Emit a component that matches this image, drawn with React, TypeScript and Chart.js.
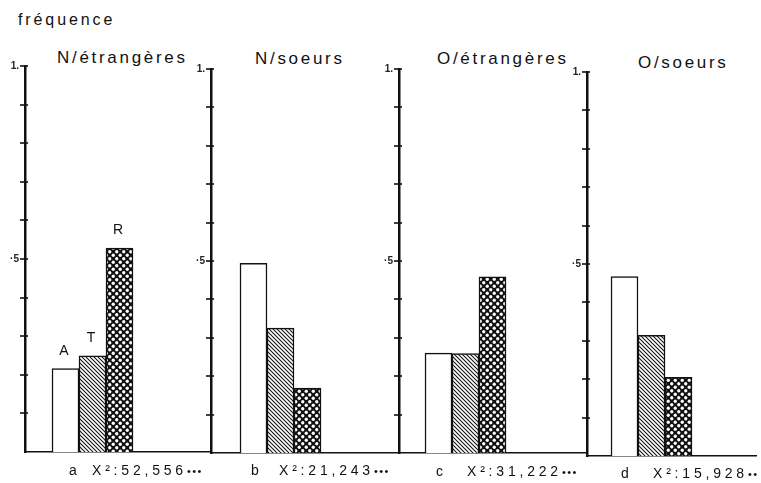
import React, { useEffect, useRef } from 'react';
import { Chart, registerables } from 'chart.js';

Chart.register(...registerables);

// ---- data ----
const categories = ['A', 'T', 'R'];
const panelTitles = ['N/étrangères', 'N/soeurs', 'O/étrangères', 'O/soeurs'];
const panelLetters = ['a', 'b', 'c', 'd'];
const chiSquare = ['52,556', '21,243', '31,222', '15,928'];
const significance = ['•••', '•••', '•••', '••'];
const freqA = [0.216, 0.494, 0.26, 0.467];
const freqT = [0.249, 0.325, 0.259, 0.314];
const freqR = [0.528, 0.169, 0.459, 0.205];
const yLabelValues = [1, 0.5];
const yLabelTexts = ['1.', '·5'];
const yAxisTitle = 'fréquence';

// ---- layout ----
const axisX = [25, 211, 399, 587];
const RIGHT_END = 757;
const topPx = [64, 67, 67, 70];
const basePx = [461, 462, 462, 465];
const barOffset = [27, 29, 26, 24];
const BAR = 27;
const LABEL_W = 22;
const PAD_TOP = 10;
const PAD_BOTTOM = 3;
const FONT = '"Liberation Sans", Arial, sans-serif';

const titleLeft = [57, 255, 437, 638];
const titleBase = [63, 64, 64, 68];
const letterLeft = [69, 251, 436, 621];
const chiLeft = [92, 279, 467, 653];
const bottomBase = [475, 475, 476, 478];

function makeHatch(): CanvasPattern | string {
  const c = document.createElement('canvas');
  c.width = 4;
  c.height = 4;
  const g = c.getContext('2d');
  if (!g) return '#888';
  g.fillStyle = '#fff';
  g.fillRect(0, 0, 4, 4);
  g.strokeStyle = '#151515';
  g.lineWidth = 1.1;
  g.beginPath();
  g.moveTo(-1, -1);
  g.lineTo(5, 5);
  g.moveTo(-1, 3);
  g.lineTo(1, 5);
  g.moveTo(3, -1);
  g.lineTo(5, 1);
  g.stroke();
  return g.createPattern(c, 'repeat') || '#888';
}

function makeDots(): CanvasPattern | string {
  const s = 7;
  const c = document.createElement('canvas');
  c.width = s;
  c.height = s;
  const g = c.getContext('2d');
  if (!g) return '#333';
  g.fillStyle = '#111';
  g.fillRect(0, 0, s, s);
  g.fillStyle = '#fff';
  g.beginPath();
  g.arc(1.75, 1.75, 1.65, 0, Math.PI * 2);
  g.fill();
  g.beginPath();
  g.arc(5.25, 5.25, 1.65, 0, Math.PI * 2);
  g.fill();
  return g.createPattern(c, 'repeat') || '#333';
}

const crossTicks = {
  id: 'crossTicks',
  afterDraw(chart: any) {
    const ys = chart.scales.y;
    const ctx = chart.ctx;
    const x0 = chart.chartArea.left - 1;
    ctx.save();
    ctx.strokeStyle = '#111';
    ctx.lineWidth = 1.6;
    ys.ticks.forEach((t: any) => {
      if (t.value <= 0.0001) return;
      const py = Math.round(ys.getPixelForValue(t.value));
      ctx.beginPath();
      ctx.moveTo(x0 - 4, py);
      ctx.lineTo(x0 + 4, py);
      ctx.stroke();
    });
    ctx.restore();
  },
};

const barLabels = {
  id: 'barLabels',
  afterDatasetsDraw(chart: any, _args: any, opts: any) {
    if (!opts || !opts.show) return;
    const meta = chart.getDatasetMeta(0);
    const ctx = chart.ctx;
    ctx.save();
    ctx.fillStyle = '#111';
    ctx.font = `14px ${FONT}`;
    ctx.textAlign = 'center';
    ctx.textBaseline = 'alphabetic';
    meta.data.forEach((bar: any, j: number) => {
      ctx.fillText(categories[j], bar.x - 1.5, bar.y - 14);
    });
    ctx.restore();
  },
};

function Panel({ index }: { index: number }) {
  const ref = useRef<HTMLCanvasElement>(null);
  const left = axisX[index] - LABEL_W;
  const right = index < axisX.length - 1 ? axisX[index + 1] : RIGHT_END;
  const areaW = right - axisX[index];
  const width = right - left;
  const height = basePx[index] - topPx[index] + PAD_TOP + PAD_BOTTOM;
  const top = topPx[index] - PAD_TOP;

  useEffect(() => {
    if (!ref.current) return;
    const hatch = makeHatch();
    const dots = makeDots();
    const series = [freqA, freqT, freqR];
    const xMin = -0.5 - barOffset[index] / BAR;
    const xMax = xMin + areaW / BAR;
    const chart = new Chart(ref.current, {
      type: 'bar',
      data: {
        datasets: [
          {
            data: categories.map((_c, j) => ({ x: j, y: series[j][index] })),
            backgroundColor: ['#ffffff', hatch, dots] as any,
            borderColor: '#111',
            borderWidth: 1.5,
            barThickness: BAR,
          } as any,
        ],
      },
      options: {
        animation: false,
        responsive: false,
        maintainAspectRatio: false,
        layout: { padding: { top: PAD_TOP, bottom: PAD_BOTTOM, left: 0, right: 0 } },
        plugins: {
          legend: { display: false },
          tooltip: { enabled: false },
          title: { display: false },
          barLabels: { show: index === 0 },
        } as any,
        scales: {
          x: {
            type: 'linear',
            min: xMin,
            max: xMax,
            offset: false,
            bounds: 'data',
            ticks: { display: false, stepSize: 1 },
            grid: { display: false, offset: false, drawTicks: false },
            border: { display: true, color: '#111', width: 1.6 },
            afterFit: (s: any) => {
              s.height = 0;
            },
          },
          y: {
            type: 'linear',
            min: 0,
            max: 1,
            ticks: {
              stepSize: 0.1,
              padding: 6,
              color: '#222',
              font: { size: 10, family: FONT, weight: 'bold' },
              callback: (v: any) => {
                const k = yLabelValues.findIndex((lv) => Math.abs(lv - Number(v)) < 1e-6);
                return k >= 0 ? yLabelTexts[k] : '';
              },
            },
            grid: { display: false, drawTicks: false },
            border: { display: true, color: '#111', width: 2.5 },
            afterFit: (s: any) => {
              s.width = LABEL_W;
            },
          },
        },
      } as any,
      plugins: [crossTicks, barLabels],
    });
    return () => chart.destroy();
  }, [index]);

  return (
    <canvas
      ref={ref}
      width={width}
      height={height}
      style={{ position: 'absolute', left, top, width, height }}
    />
  );
}

function Text({
  children,
  left,
  base,
  size,
  spacing,
}: {
  children: React.ReactNode;
  left: number;
  base: number;
  size: number;
  spacing: number;
}) {
  return (
    <div
      style={{
        position: 'absolute',
        left,
        top: base - size * 0.8465,
        fontSize: size,
        lineHeight: 1,
        letterSpacing: spacing,
        whiteSpace: 'nowrap',
        color: '#111',
        fontFamily: FONT,
      }}
    >
      {children}
    </div>
  );
}

export default function App() {
  return (
    <div
      style={{
        position: 'absolute',
        left: 0,
        top: 0,
        width: 761,
        height: 483,
        background: '#fff',
        overflow: 'hidden',
      }}
    >
      <Text left={18} base={26} size={16} spacing={2.9}>
        {yAxisTitle}
      </Text>
      {panelTitles.map((t, i) => (
        <Text key={'t' + i} left={titleLeft[i]} base={titleBase[i]} size={17} spacing={2.7}>
          {t}
        </Text>
      ))}
      {panelTitles.map((_t, i) => (
        <Panel key={'p' + i} index={i} />
      ))}
      {panelLetters.map((l, i) => (
        <Text key={'l' + i} left={letterLeft[i]} base={bottomBase[i]} size={14} spacing={0}>
          {l}
        </Text>
      ))}
      {chiSquare.map((c, i) => (
        <Text key={'c' + i} left={chiLeft[i]} base={bottomBase[i]} size={14} spacing={3.8}>
          {'X²:' + c}
          <span style={{ fontSize: 11, letterSpacing: 1.5 }}>{significance[i]}</span>
        </Text>
      ))}
    </div>
  );
}
